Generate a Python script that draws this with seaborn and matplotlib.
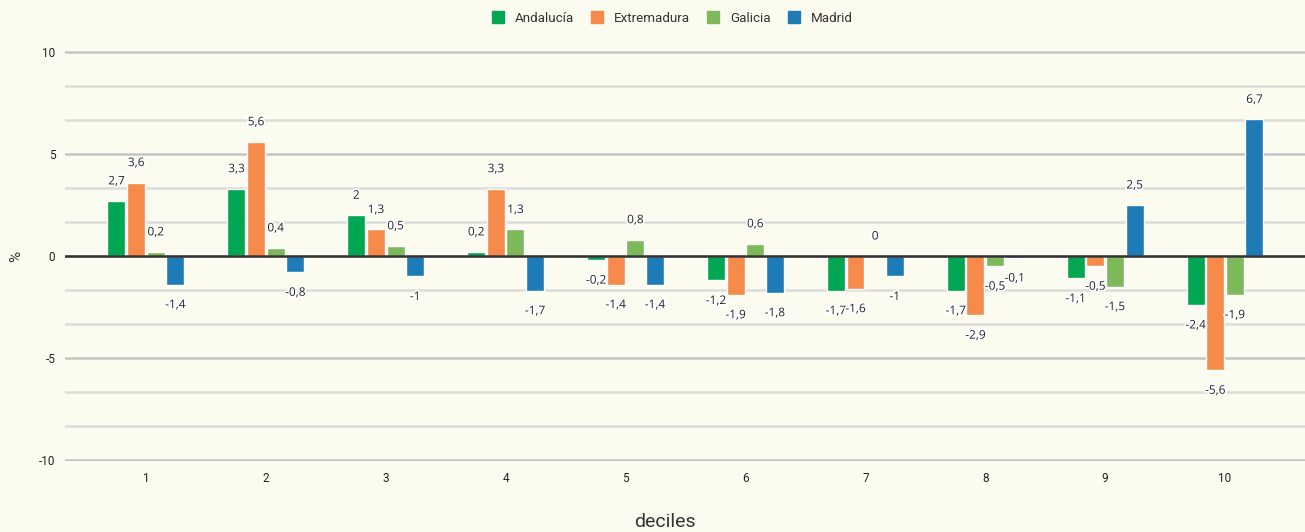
import matplotlib
matplotlib.use("Agg")
import matplotlib.pyplot as plt
import matplotlib.patheffects as pe
from matplotlib.ticker import MultipleLocator
import pandas as pd
import seaborn as sns

# Data: percentage change by income decile
deciles = ["1", "2", "3", "4", "5", "6", "7", "8", "9", "10"]
regions = ["Andalucía", "Extremadura", "Galicia", "Madrid"]
andalucia = [2.7, 3.3, 2.0, 0.2, -0.2, -1.2, -1.7, -1.7, -1.1, -2.4]
extremadura = [3.6, 5.6, 1.3, 3.3, -1.4, -1.9, -1.6, -2.9, -0.5, -5.6]
galicia = [0.2, 0.4, 0.5, 1.3, 0.8, 0.6, 0.0, -0.5, -1.5, -1.9]
madrid = [-1.4, -0.8, -1.0, -1.7, -1.4, -1.8, -1.0, -0.1, 2.5, 6.7]
y_ticks = [-10, -5, 0, 5, 10]

colors = ["#00A651", "#F58A4B", "#7DB95A", "#1F7BB5"]
bg = "#FCFBF0"

series = [andalucia, extremadura, galicia, madrid]
df = pd.DataFrame(
    [(d, r, v) for r, vals in zip(regions, series) for d, v in zip(deciles, vals)],
    columns=["decil", "region", "valor"],
)

sns.set_style("white", {"axes.facecolor": bg, "figure.facecolor": bg})
plt.rcParams["font.family"] = ["Roboto", "DejaVu Sans"]

fig = plt.figure(figsize=(13.05, 5.32), dpi=100)
ax = fig.add_axes([65 / 1305, (532 - 461) / 532, 1240 / 1305, 410 / 532])
ax.set_facecolor(bg)

sns.barplot(
    data=df, x="decil", y="valor", hue="region", order=deciles,
    hue_order=regions, palette=colors, width=0.655, gap=0.085,
    saturation=1, legend=False, ax=ax, zorder=2,
)

ax.set_xlim(-0.675, 9.667)
ax.set_ylim(-10.05, 10.05)
ax.set_yticks(y_ticks)
ax.set_yticklabels([str(t) for t in y_ticks])
ax.yaxis.set_minor_locator(MultipleLocator(5 / 3))
ax.grid(axis="y", which="major", color="#C4C4C4", lw=1.8, zorder=0)
ax.grid(axis="y", which="minor", color="#DCDCDA", lw=1.8, zorder=0)
ax.set_axisbelow(True)
ax.axhline(0, color="#333333", lw=1.8, zorder=3)
for s in ax.spines.values():
    s.set_visible(False)
ax.tick_params(axis="both", which="both", length=0, labelsize=8.5,
               labelcolor="#222222")
ax.tick_params(axis="y", pad=7)
ax.tick_params(axis="x", pad=8)

ax.set_ylabel("%", fontsize=11, color="#333333")
ax.yaxis.set_label_coords(-0.034, 0.5)
ax.set_xlabel("deciles", fontsize=14, color="#333333")
ax.xaxis.label.set_va("center")
ax.xaxis.set_label_coords(0.484, -0.149)


def fmt(v):
    s = f"{v:g}"
    return s.replace(".", ",")


for cont in ax.containers:
    for bar, v in zip(cont, cont.datavalues):
        x = bar.get_x() + bar.get_width() / 2
        off = 14.4 if v >= 0 else -14.4
        ax.annotate(
            fmt(v), (x, v), xytext=(0, off), textcoords="offset points",
            ha="center", va="center", fontsize=8.5, color="#222222",
            family=["Open Sans", "DejaVu Sans"],
            path_effects=[pe.withStroke(linewidth=2.5, foreground="white")],
            zorder=5,
        )

handles = [plt.Rectangle((0, 0), 1, 1, color=c) for c in colors]
fig.legend(
    handles, regions, loc="center", bbox_to_anchor=(672 / 1305, 1 - 18 / 532),
    ncol=4, frameon=False, fontsize=9.6, handlelength=0.9, handleheight=0.9,
    handletextpad=0.8, columnspacing=1.3, labelcolor="#333333",
)

fig.savefig("out.png", dpi=100, facecolor=bg)
